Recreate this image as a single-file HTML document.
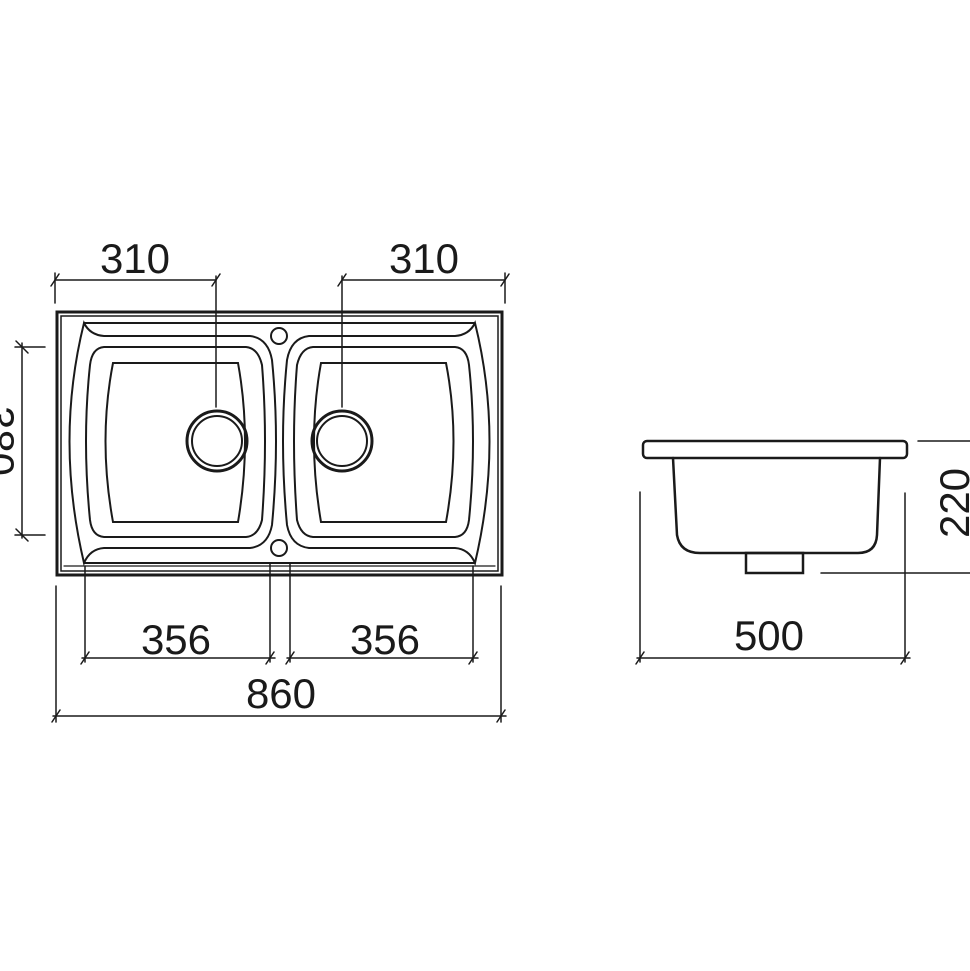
<!DOCTYPE html>
<html><head><style>html,body{margin:0;padding:0;background:#fff}svg{display:block}</style></head>
<body>
<svg width="970" height="971" viewBox="0 0 970 971" xmlns="http://www.w3.org/2000/svg">
<g fill="none" stroke="#1a1a1a" stroke-width="2" stroke-linecap="round">
<rect x="57" y="312" width="445" height="263" stroke-width="3"/>
<rect x="61" y="316" width="437" height="255" stroke-width="1.5"/>
<line x1="84" y1="323" x2="474" y2="323"/>
<line x1="84" y1="563" x2="474" y2="563"/>
<line x1="64" y1="566" x2="495" y2="566" stroke-width="1.2"/>
<g id="bowl">
<path d="M84,323 Q90,335 104,336 L250,336 Q268,338 272,360 Q280,440 272,525 Q268,546 250,548 L104,548 Q90,549 84,563 Q55,440 84,323 Z"/>
<path d="M104,347 L246,347 Q258,348 262,365 Q268,440 262,520 Q258,536 246,537 L104,537 Q92,536 90,520 Q82,440 90,365 Q92,348 104,347 Z"/>
<path d="M113,363 L238,363 Q252,440 238,522 L113,522 Q98,440 113,363 Z"/>
<circle cx="217" cy="441" r="30" stroke-width="3"/>
<circle cx="217" cy="441" r="25"/>
</g>
<use href="#bowl" transform="translate(559,0) scale(-1,1)"/>
<circle cx="279" cy="336" r="8"/>
<circle cx="279" cy="548" r="8"/>
<line x1="55" y1="280" x2="216" y2="280" stroke-width="1.5"/>
<line x1="342" y1="280" x2="505" y2="280" stroke-width="1.5"/>
<line x1="55" y1="273" x2="55" y2="303" stroke-width="1.5"/>
<line x1="505" y1="273" x2="505" y2="303" stroke-width="1.5"/>
<line x1="216" y1="276" x2="216" y2="407" stroke-width="1.5"/>
<line x1="342" y1="276" x2="342" y2="407" stroke-width="1.5"/>
<path d="M51,286 L59,274 M212,286 L220,274 M338,286 L346,274 M501,286 L509,274" stroke-width="1.5"/>
<line x1="22" y1="343" x2="22" y2="538" stroke-width="1.5"/>
<line x1="15" y1="347" x2="45" y2="347" stroke-width="1.5"/>
<line x1="15" y1="535" x2="45" y2="535" stroke-width="1.5"/>
<path d="M16,341 L28,353 M16,529 L28,541" stroke-width="1.5"/>
<line x1="85" y1="566" x2="85" y2="662" stroke-width="1.5"/>
<line x1="270" y1="563" x2="270" y2="662" stroke-width="1.5"/>
<line x1="290" y1="563" x2="290" y2="662" stroke-width="1.5"/>
<line x1="473" y1="566" x2="473" y2="662" stroke-width="1.5"/>
<line x1="82" y1="658" x2="275" y2="658" stroke-width="1.5"/>
<line x1="287" y1="658" x2="478" y2="658" stroke-width="1.5"/>
<path d="M81,664 L89,652 M266,664 L274,652 M286,664 L294,652 M469,664 L477,652" stroke-width="1.5"/>
<line x1="56" y1="586" x2="56" y2="722" stroke-width="1.5"/>
<line x1="501" y1="586" x2="501" y2="722" stroke-width="1.5"/>
<line x1="53" y1="716" x2="506" y2="716" stroke-width="1.5"/>
<path d="M52,722 L60,710 M497,722 L505,710" stroke-width="1.5"/>
<rect x="643" y="441" width="264" height="17" rx="4" stroke-width="2.5"/>
<path d="M673,458 L677,535 Q680,553 700,553 L858,553 Q876,553 877,535 L880,458" stroke-width="2.5"/>
<rect x="746" y="553" width="57" height="20" stroke-width="2.5"/>
<line x1="640" y1="492" x2="640" y2="662" stroke-width="1.5"/>
<line x1="905" y1="493" x2="905" y2="662" stroke-width="1.5"/>
<line x1="637" y1="658" x2="910" y2="658" stroke-width="1.5"/>
<path d="M636,664 L644,652 M901,664 L909,652" stroke-width="1.5"/>
<line x1="918" y1="441" x2="970" y2="441" stroke-width="1.5"/>
<line x1="821" y1="573" x2="970" y2="573" stroke-width="1.5"/>
</g>
<g font-family="Liberation Sans, sans-serif" font-size="42" fill="#1a1a1a" text-anchor="middle">
<text x="135" y="273">310</text>
<text x="424" y="273">310</text>
<text x="176" y="654">356</text>
<text x="385" y="654">356</text>
<text x="281" y="708">860</text>
<text x="769" y="650">500</text>
<text transform="translate(-15,441) rotate(90)" x="0" y="0">380</text>
<text transform="translate(969,503) rotate(-90)" x="0" y="0">220</text>
</g>
</svg>
</body></html>
